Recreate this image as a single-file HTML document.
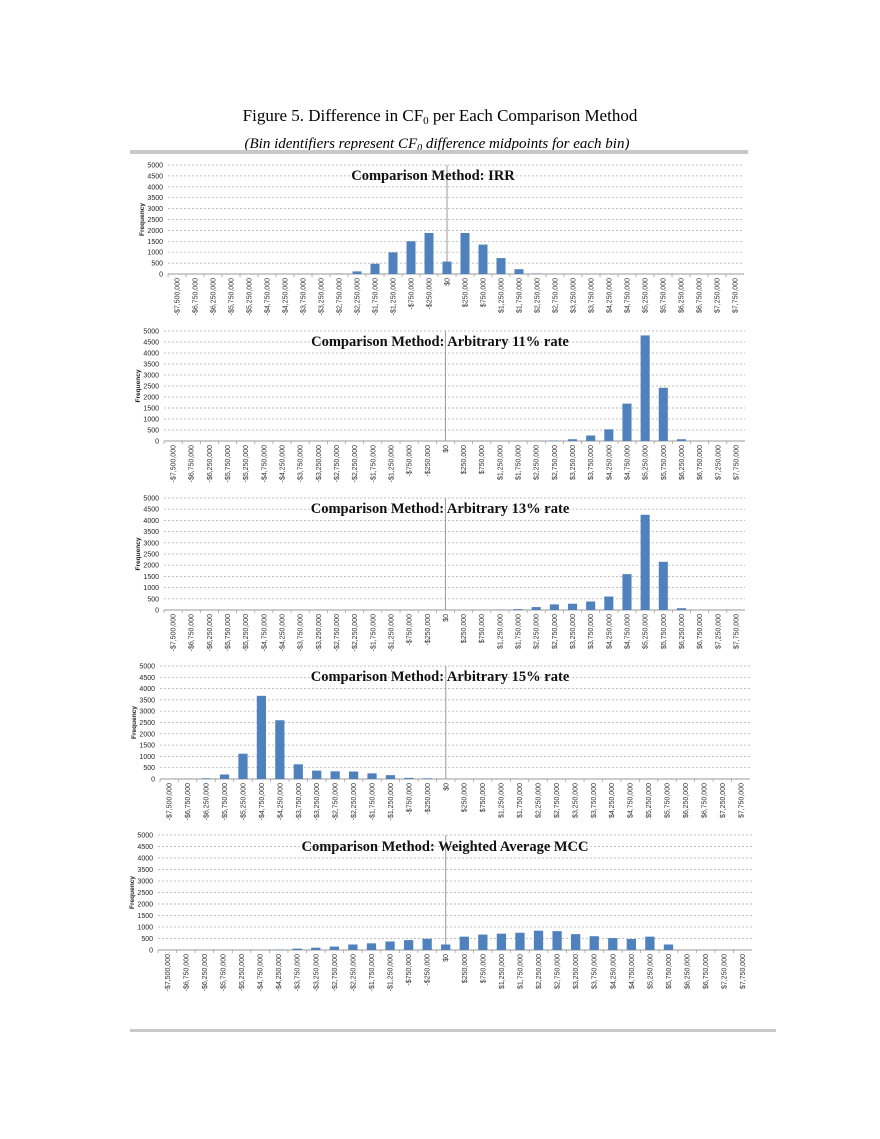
<!DOCTYPE html>
<html><head><meta charset="utf-8"><style>
body{margin:0;background:#fff;width:880px;height:1139px;overflow:hidden}
svg{display:block}
</style></head><body>
<svg id="s" width="880" height="1139" xmlns="http://www.w3.org/2000/svg">
<text x="440" y="121" text-anchor="middle" font-family="Liberation Serif, serif" font-size="17">Figure 5. Difference in CF<tspan font-size="11" dy="3">0</tspan><tspan dy="-3"> per Each Comparison Method</tspan></text>
<text x="437" y="148" text-anchor="middle" font-family="Liberation Serif, serif" font-size="15" font-style="italic">(Bin identifiers represent CF<tspan font-size="10" dy="3">0</tspan><tspan dy="-3"> difference midpoints for each bin)</tspan></text>
<rect x="130" y="150" width="618" height="4" fill="#c8c8c8"/>
<rect x="130" y="1029" width="646" height="3" fill="#c8c8c8"/>
<g id="charts"></g>
</svg>
<script>
const categories=["-$7,500,000","-$6,750,000","-$6,250,000","-$5,750,000","-$5,250,000","-$4,750,000","-$4,250,000","-$3,750,000","-$3,250,000","-$2,750,000","-$2,250,000","-$1,750,000","-$1,250,000","-$750,000","-$250,000","$0","$250,000","$750,000","$1,250,000","$1,750,000","$2,250,000","$2,750,000","$3,250,000","$3,750,000","$4,250,000","$4,750,000","$5,250,000","$5,750,000","$6,250,000","$6,750,000","$7,250,000","$7,750,000"];
const yTicks=[0,500,1000,1500,2000,2500,3000,3500,4000,4500,5000];
const irr=[0,0,0,0,0,0,0,0,0,20,120,470,990,1500,1880,570,1880,1350,730,220,20,0,0,0,0,0,0,0,0,0,0,0];
const arb11=[0,0,0,0,0,0,0,0,0,0,0,0,0,0,0,0,0,0,0,0,0,20,80,250,530,1700,4800,2420,80,0,0,0];
const arb13=[0,0,0,0,0,0,0,0,0,0,0,0,0,0,0,0,0,0,20,40,130,250,280,380,600,1600,4250,2150,80,0,0,0];
const arb15=[0,10,30,200,1120,3680,2600,650,370,340,330,250,170,50,30,0,0,0,0,0,0,0,0,0,0,0,0,0,0,0,0,0];
const wamcc=[0,0,0,0,0,0,20,60,100,150,240,290,370,430,490,240,580,670,710,750,840,820,690,600,520,480,580,240,0,0,0,0];
const titles=["Comparison Method: IRR","Comparison Method: Arbitrary 11% rate","Comparison Method: Arbitrary 13% rate","Comparison Method: Arbitrary 15% rate","Comparison Method: Weighted Average MCC"];
const names=["irr","arbitrary-11","arbitrary-13","arbitrary-15","weighted-average-mcc"];
const series=[irr,arb11,arb13,arb15,wamcc];
const layouts=[{l:168,r:744,t:165,b:274,tx:433,ty:180},{l:164,r:745,t:331,b:441,tx:440,ty:346},{l:164,r:745,t:498,b:610,tx:440,ty:513},{l:160,r:750,t:666,b:779,tx:440,ty:681},{l:158,r:752,t:835,b:950,tx:445,ty:851}];
const NS="http://www.w3.org/2000/svg";
const root=document.getElementById('charts');
function mk(tag,attrs,parent){const e=document.createElementNS(NS,tag);for(const k in attrs)e.setAttribute(k,attrs[k]);parent.appendChild(e);return e;}
series.forEach((data,ci)=>{
  const L=layouts[ci];
  const g=mk('g',{},root);
  
  
  const n=categories.length, cw=(L.r-L.l)/n;
  const xc=i=>L.l+(i+0.5)*cw;
  const y=v=>L.b-(v/5000)*(L.b-L.t);
  yTicks.forEach(t=>{
    const ln=mk('line',{x1:L.l,x2:L.r,y1:y(t),y2:y(t),stroke:t===0?'#999':'#aaa','stroke-width':t===0?1:0.7,'stroke-dasharray':t===0?'':'2,2'},g);
    
    
    const tx=mk('text',{x:L.l-5,y:y(t)+2.5,'text-anchor':'end','font-family':'Liberation Sans, sans-serif','font-size':7,fill:'#222'},g);
    tx.textContent=t;
    
    
  });
  const yl=mk('text',{x:0,y:0,transform:`translate(${L.l-24},${(L.t+L.b)/2}) rotate(-90)`,'text-anchor':'middle','font-family':'Liberation Sans, sans-serif','font-size':6.5,'font-weight':'bold',fill:'#222'},g);
  yl.textContent='Frequency';
  
  
  const zl=mk('line',{x1:xc(15),x2:xc(15),y1:L.t,y2:L.b,stroke:'#999','stroke-width':1},g);
  
  
  data.forEach((v,i)=>{
    if(v<=0)return;
    const bw=cw*0.5;
    const rc=mk('rect',{x:xc(i)-bw/2,y:y(v),width:bw,height:L.b-y(v),fill:'#4f81bd'},g);
    
    
  });
  categories.forEach((c,i)=>{
    const x=xc(i);
    const tk=mk('line',{x1:L.l+i*cw,x2:L.l+i*cw,y1:L.b,y2:L.b+3,stroke:'#999','stroke-width':0.7},g);
    
    
    const tx=mk('text',{x:0,y:0,transform:`translate(${x+2.5},${L.b+4}) rotate(-90)`,'text-anchor':'end','font-family':'Liberation Sans, sans-serif','font-size':7,fill:'#333'},g);
    tx.textContent=c;
    
    
  });
  const tt=mk('text',{x:L.tx,y:L.ty,'text-anchor':'middle','font-family':'Liberation Serif, serif','font-size':14.5,'font-weight':'bold',fill:'#111'},g);
  tt.textContent=titles[ci];
  
  
});
</script>
</body></html>
